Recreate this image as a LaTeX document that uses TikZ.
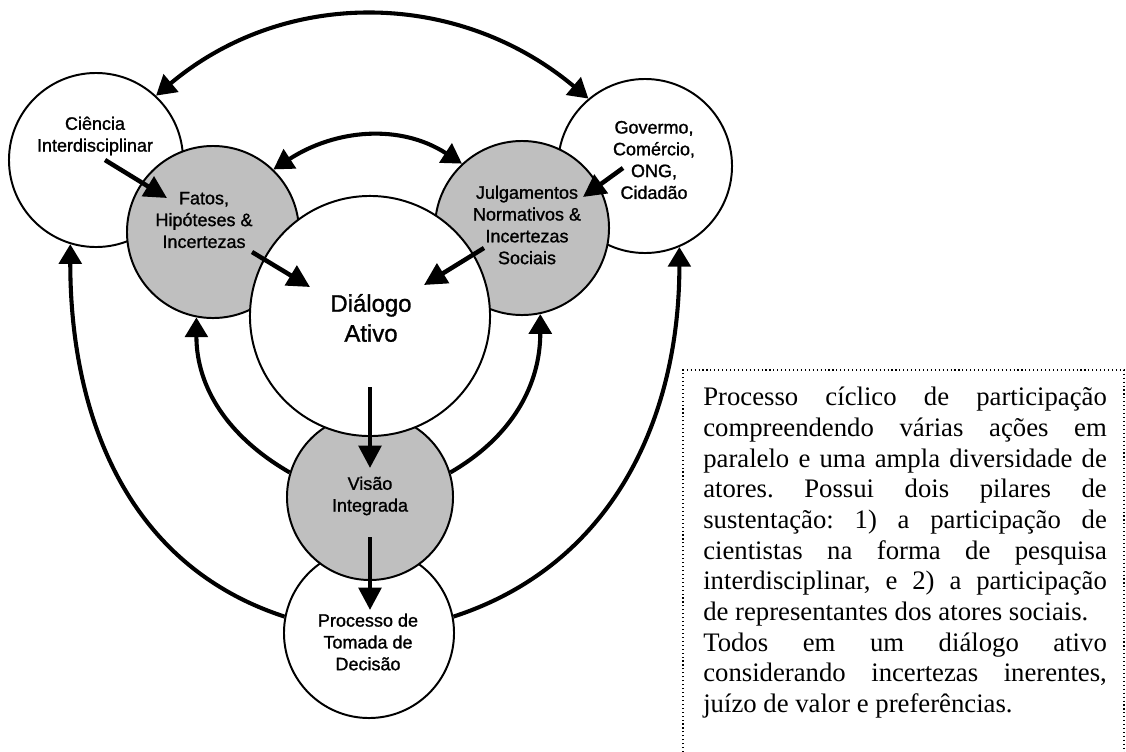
\documentclass[tikz,border=0pt]{standalone}
\usepackage{fontspec}
\setmainfont{Liberation Serif}
\newfontfamily\rotfonte[FakeBold=1.2]{Liberation Sans}
\usetikzlibrary{arrows.meta}
\tikzset{
  roda/.style={circle,draw,line width=1.4pt,fill=white,inner sep=0pt},
  cinza/.style={roda,fill=black!25},
  rotulo/.style={font=\rotfonte\fontsize{12.8}{15.5}\selectfont,align=center,inner sep=0pt},
  seta/.style={line width=3.2pt,-{Triangle[length=16pt,width=16pt]}},
  arco/.style={line width=2.9pt,-{Triangle[length=14pt,width=16pt]}},
  arcoduplo/.style={line width=2.9pt,{Triangle[length=14pt,width=16pt]}-{Triangle[length=14pt,width=16pt]}},
}
\begin{document}
\begin{tikzpicture}[x=0.025cm,y=-0.025cm]
\useasboundingbox (0,0) rectangle (1126,751);
% circulos de fora
\node[roda,minimum size=4.35cm] (cien) at (96,160) {};
\node[roda,minimum size=4.35cm] (gov) at (645,166) {};
% circulos cinzas
\node[cinza,minimum size=4.3cm] (fatos) at (213,232) {};
\node[cinza,minimum size=4.35cm] (julg) at (522,228) {};
\node[roda,minimum size=4.25cm] (proc) at (369,633) {};
\node[cinza,minimum size=4.15cm] (visao) at (370,497) {};
% centro
\node[roda,minimum size=6cm] (dial) at (370,316) {};

% textos
\node[rotulo] (cientxt) at (95,136) {Ciência\\Interdisciplinar};
\node[rotulo] (govtxt) at (654,160) {Govermo,\\Comércio,\\ONG,\\Cidadão};
\node[rotulo] (fatostxt) at (204,220) {Fatos,\\Hipóteses \&\\Incertezas};
\node[rotulo] (julgtxt) at (527,225) {Julgamentos\\Normativos \&\\Incertezas\\Sociais};
\node[rotulo,font=\rotfonte\fontsize{17}{21.3}\selectfont] (dialtxt) at (371,318) {Diálogo\\Ativo};
\node[rotulo] (visaotxt) at (370,496) {Visão\\Integrada};
\node[rotulo] (proctxt) at (368,642) {Processo de\\Tomada de\\Decisão};

% arcos
\draw[arcoduplo] (cien.47) to[out=40,in=140] (gov.130);
\draw[arcoduplo] (fatos.46) to[out=33,in=147] (julg.133);
\draw[arco] (proc.169) to[out=162,in=-90] (cien.-107);
\draw[arco] (proc.11) to[out=18,in=-90] (gov.-67);
\draw[arco] (visao.163) to[out=150,in=-90] (fatos.-101);
\draw[arco] (visao.17) to[out=30,in=-90] (julg.-78);

% setas retas
\draw[seta] ([shift={(9,0)}]cien.center) -- ([shift={(-46,-34)}]fatos.center);
\draw[seta] ([shift={(39,20)}]fatos.center) -- ([shift={(-60,-29)}]dial.center);
\draw[seta] ([shift={(-22,2)}]gov.center) -- ([shift={(61,-31)}]julg.center);
\draw[seta] ([shift={(-38,20)}]julg.center) -- ([shift={(54,-31)}]dial.center);
\draw[seta] ([shift={(0,71)}]dial.center) -- ([shift={(0,-29)}]visao.center);
\draw[seta] ([shift={(0,40)}]visao.center) -- ([shift={(1,-23)}]proc.center);

% caixa de texto
\draw[dotted,line width=0.8pt] (683,760) -- (683,370) -- (1124,370) -- (1124,760);
\node[anchor=north west,inner sep=0pt,text width=287pt,align=justify,
  font=\fontsize{19}{21.8}\selectfont] (texto) at (703,387) {\frenchspacing\tolerance=10000
Processo cíclico de participação\linebreak
compreendendo várias ações em\linebreak
paralelo e uma ampla diversidade de\linebreak
atores. Possui dois pilares de\linebreak
sustentação: 1) a participação de\linebreak
cientistas na forma de pesquisa\linebreak
interdisciplinar, e 2) a participação\linebreak
de representantes dos atores sociais.\newline
Todos em um diálogo ativo\linebreak
considerando incertezas inerentes,\linebreak
juízo de valor e preferências.};
\end{tikzpicture}
\end{document}
